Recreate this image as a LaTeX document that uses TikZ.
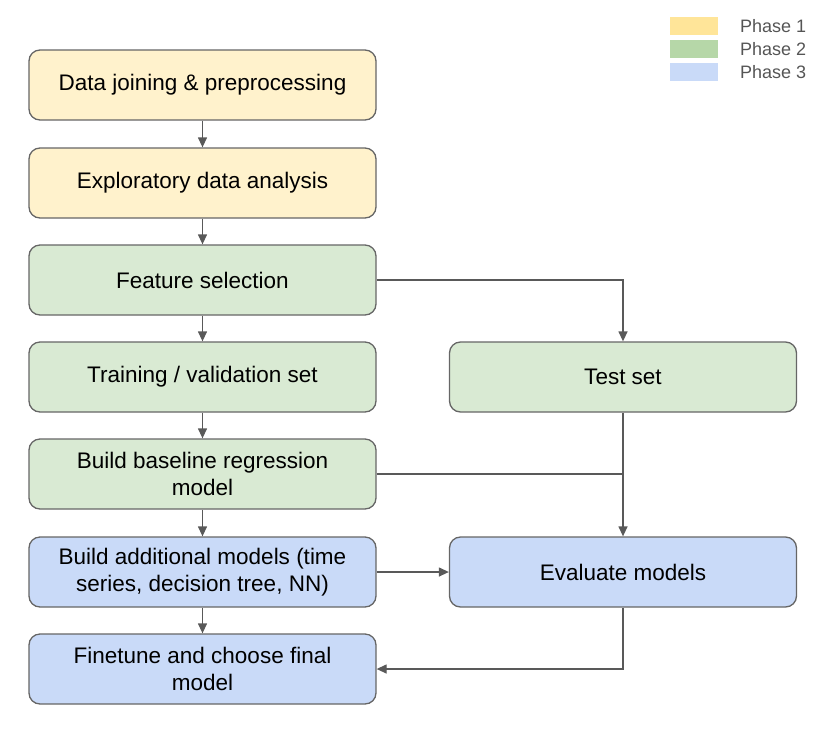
\documentclass[tikz,border=0pt]{standalone}
\usepackage{fontspec}
\setmainfont{Liberation Sans}
\usepackage{tikz}
\usetikzlibrary{arrows.meta}

\definecolor{yelfill}{HTML}{FFF2CC}
\definecolor{grnfill}{HTML}{D9EAD3}
\definecolor{blufill}{HTML}{C9DAF8}
\definecolor{yelkey}{HTML}{FFE599}
\definecolor{grnkey}{HTML}{B6D7A8}
\definecolor{blukey}{HTML}{C9DAF8}
\definecolor{edgegray}{HTML}{666666}
\definecolor{arrowgray}{HTML}{595959}
\definecolor{keytext}{HTML}{555555}

\begin{document}
\begin{tikzpicture}[x=1pt,y=-1pt]
\tikzstyle{every node}+=[font=\fontsize{22.5}{27}\selectfont]
\tikzstyle{stage}=[draw=edgegray, line width=1.3pt, rounded corners=11pt,
  minimum width=347pt, minimum height=70pt, align=center, inner sep=0pt]
\tikzstyle{flow}=[draw=arrowgray, line width=1.3pt, -{Triangle[length=10pt,width=9pt]}]
\tikzstyle{keybox}=[minimum width=48pt, minimum height=18pt, inner sep=0pt]
\tikzstyle{keylabel}=[anchor=west, text=keytext, font=\fontsize{18}{20}\selectfont, inner sep=0pt]
\useasboundingbox (0,0) rectangle (836,732);
% left column
\node[stage, fill=yelfill] (prep) at (202.5,85) {Data joining \& preprocessing};
\node[stage, fill=yelfill] (eda) at (202.5,183) {Exploratory data analysis};
\node[stage, fill=grnfill] (feat) at (202.5,280) {Feature selection};
\node[stage, fill=grnfill] (trainval) at (202.5,377) {Training / validation set};
\node[stage, fill=grnfill] (base) at (202.5,474) {Build baseline regression\\model};
\node[stage, fill=blufill] (more) at (202.5,572) {Build additional models (time\\series, decision tree, NN)};
\node[stage, fill=blufill] (tune) at (202.5,669) {Finetune and choose final\\model};
% right column
\node[stage, fill=grnfill] (test) at (623,377) {Test set};
\node[stage, fill=blufill] (eval) at (623,572) {Evaluate models};
% legend
\node[keybox, fill=yelkey] (key1) at (694,26) {};
\node[keybox, fill=grnkey] (key2) at (694,49) {};
\node[keybox, fill=blukey] (key3) at (694,72) {};
\node[keylabel] (lab1) at (740,26) {Phase 1};
\node[keylabel] (lab2) at (740,49) {Phase 2};
\node[keylabel] (lab3) at (740,72) {Phase 3};
% connectors
\draw[flow] (prep) -- (eda);
\draw[flow] (eda) -- (feat);
\draw[flow] (feat) -- (trainval);
\draw[flow] (trainval) -- (base);
\draw[flow] (base) -- (more);
\draw[flow] (more) -- (tune);
\draw[flow] (feat.east) -| (test.north);
\draw[flow] (test) -- (eval);
\draw[draw=arrowgray, line width=1.3pt] (base.east) -- (base.east -| test.south);
\draw[flow] (more) -- (eval);
\draw[flow] (eval.south) |- (tune.east);
\end{tikzpicture}
\end{document}
